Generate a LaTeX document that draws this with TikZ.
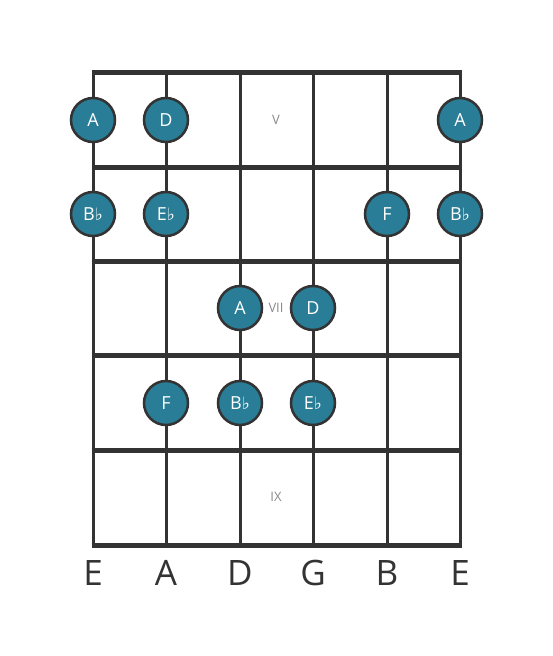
\documentclass[tikz,border=0pt]{standalone}
\usepackage{fontspec}
\setmainfont{Open Sans}
\newfontfamily\symfont{DejaVu Sans}
\definecolor{dotblue}{HTML}{2A7D97}
\definecolor{linegray}{HTML}{333333}
\definecolor{posgray}{HTML}{8A8A8A}
\newcommand{\fl}{{\symfont\fontsize{17}{17}\selectfont ♭}}
\begin{document}
\begin{tikzpicture}[
            x=1pt, y=-1pt,
            fretline/.style = {draw=linegray, line width=5pt},
            gtrstring/.style = {draw=linegray, line width=3pt},
            note/.style = {shape=circle, minimum size=44pt, inner sep=0pt, fill=dotblue, draw=linegray, line width=2.5pt, text=white, font=\fontsize{18}{18}\selectfont},
            fretmark/.style = {text=posgray, font=\fontsize{13}{13}\selectfont},
            tuning/.style = {text=linegray, font=\fontsize{35}{35}\selectfont}
          ]
          \useasboundingbox (0,0) rectangle (553,656);
          % strings
          \foreach \s/\x in {1/93, 2/166, 3/240, 4/313, 5/387, 6/460} {
            \coordinate (s\s t) at (\x,72);
            \coordinate (s\s b) at (\x,545);
            \draw[gtrstring] (s\s t) -- (s\s b);
          }
          % frets
          \foreach \f/\y in {0/72, 1/167, 2/261, 3/355, 4/450, 5/545} {
            \coordinate (f\f l) at (91.5,\y);
            \coordinate (f\f r) at (461.5,\y);
            \draw[fretline] (f\f l) -- (f\f r);
          }
          % position marks
          \node[fretmark] (posV) at (276,120) {V};
          \node[fretmark] (posVII) at (276,308) {VII};
          \node[fretmark] (posIX) at (276,497) {IX};
          % notes
          \node[note] (n11) at (93,120) {A};
          \node[note] (n12) at (166,120) {D};
          \node[note] (n16) at (460,120) {A};
          \node[note] (n21) at (93,214) {B\fl};
          \node[note] (n22) at (166,214) {E\fl};
          \node[note] (n25) at (387,214) {F};
          \node[note] (n26) at (460,214) {B\fl};
          \node[note] (n33) at (240,308) {A};
          \node[note] (n34) at (313,308) {D};
          \node[note] (n42) at (166,403) {F};
          \node[note] (n43) at (240,403) {B\fl};
          \node[note] (n44) at (313,403) {E\fl};
          % tuning
          \foreach \s/\x/\t in {1/93/E, 2/166/A, 3/240/D, 4/313/G, 5/387/B, 6/460/E} {
            \node[tuning] (t\s) at (\x,573) {\t};
          }
        \end{tikzpicture}
\end{document}
